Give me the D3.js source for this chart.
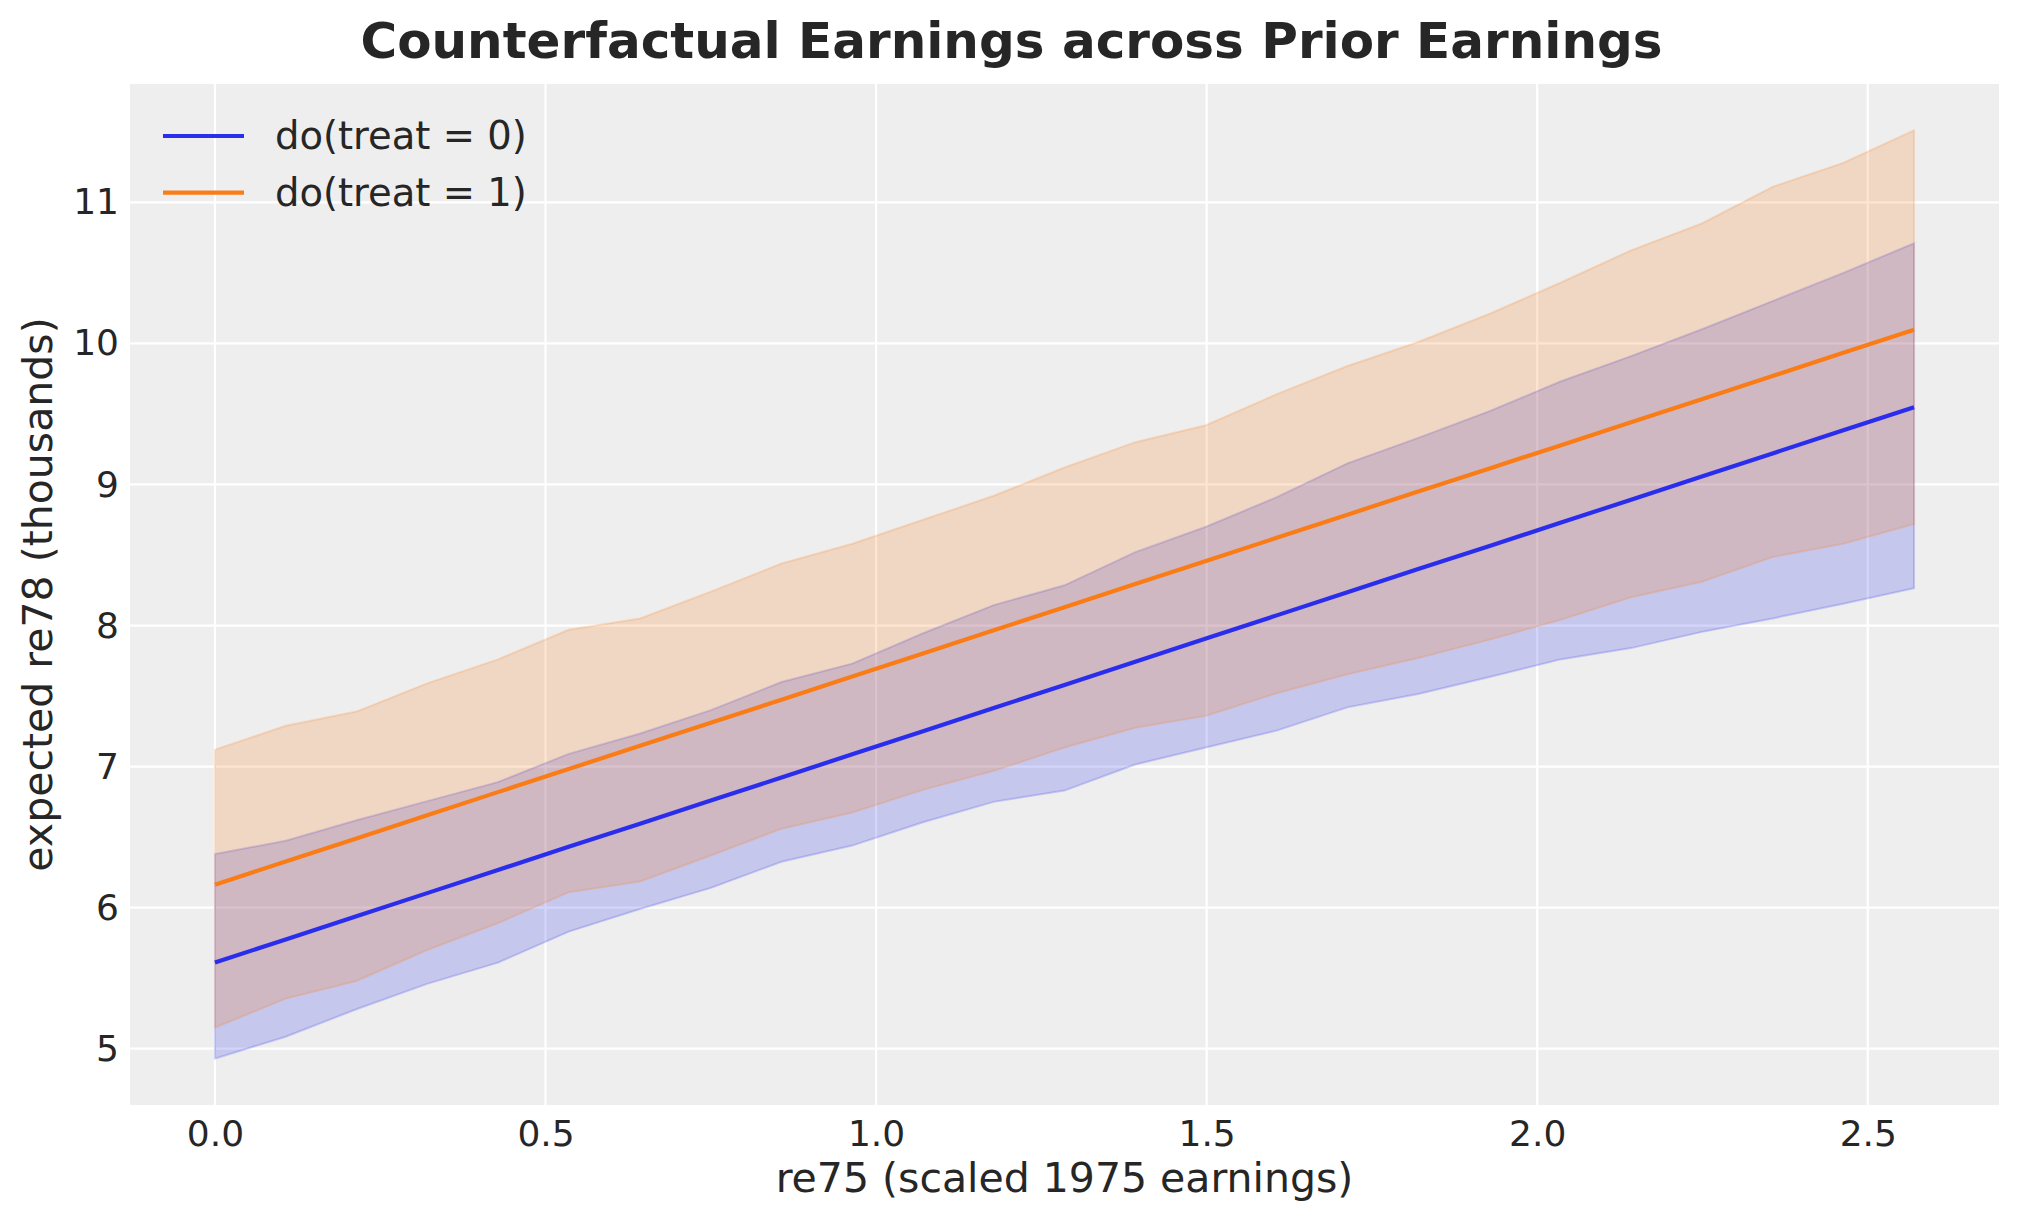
<!DOCTYPE html>
<html>
<head>
<meta charset="utf-8">
<script src="https://cdn.jsdelivr.net/npm/d3@7"></script>
<style>
  body { margin: 0; background: #fff; }
  text { font-family: "DejaVu Sans", sans-serif; fill: #262626; }
</style>
</head>
<body>
<svg id="viz" width="2023" height="1223"></svg>
<script>
// re75 grid (scaled 1975 earnings)
const re75 = [0, 0.107, 0.214, 0.321, 0.428, 0.535, 0.643, 0.750, 0.857, 0.964,
              1.071, 1.178, 1.285, 1.392, 1.499, 1.606, 1.713, 1.820, 1.928, 2.035,
              2.142, 2.249, 2.356, 2.463, 2.570];

// do(treat = 0): mean and interval
const meanControl = [5.611, 5.775, 5.939, 6.103, 6.267, 6.431, 6.595, 6.759, 6.923, 7.087,
                     7.251, 7.415, 7.579, 7.744, 7.908, 8.072, 8.236, 8.400, 8.564, 8.728,
                     8.892, 9.056, 9.220, 9.384, 9.548];
const lowControl = [4.93, 5.085, 5.28, 5.46, 5.61, 5.83, 5.99, 6.14, 6.325, 6.44,
                    6.605, 6.75, 6.83, 7.015, 7.135, 7.255, 7.42, 7.515, 7.635, 7.76,
                    7.84, 7.955, 8.05, 8.155, 8.265];
const highControl = [6.38, 6.475, 6.62, 6.755, 6.89, 7.09, 7.235, 7.40, 7.60, 7.73,
                     7.945, 8.145, 8.285, 8.52, 8.70, 8.91, 9.15, 9.33, 9.52, 9.73,
                     9.91, 10.10, 10.30, 10.50, 10.71];

// do(treat = 1): mean and interval
const meanTreated = [6.163, 6.327, 6.491, 6.655, 6.819, 6.983, 7.147, 7.311, 7.474, 7.638,
                     7.802, 7.966, 8.130, 8.294, 8.458, 8.622, 8.786, 8.950, 9.114, 9.277,
                     9.441, 9.605, 9.769, 9.933, 10.097];
const lowTreated = [5.15, 5.355, 5.48, 5.70, 5.89, 6.11, 6.185, 6.37, 6.56, 6.675,
                    6.835, 6.97, 7.135, 7.275, 7.36, 7.52, 7.655, 7.77, 7.90, 8.04,
                    8.20, 8.31, 8.485, 8.58, 8.72];
const highTreated = [7.12, 7.29, 7.39, 7.59, 7.76, 7.97, 8.05, 8.24, 8.44, 8.58,
                     8.75, 8.92, 9.12, 9.30, 9.42, 9.64, 9.84, 10.01, 10.21, 10.43,
                     10.66, 10.85, 11.11, 11.28, 11.51];

const seriesNames = ["do(treat = 0)", "do(treat = 1)"];
const xTicks = [0.0, 0.5, 1.0, 1.5, 2.0, 2.5];
const yTicks = [5, 6, 7, 8, 9, 10, 11];

const colors = ["#2a2eec", "#fa7c17"];

let svg = d3.select("#viz");
let width = parseInt(svg.attr("width"));
let height = parseInt(svg.attr("height"));

const margin = {top: 84, right: 24, bottom: 118, left: 130};
const w = width - margin.left - margin.right;
const h = height - margin.top - margin.bottom;

// matplotlib style 5% margins
const xExt = d3.extent(re75);
const xPad = (xExt[1] - xExt[0]) * 0.05;
const yExt = d3.extent([].concat(lowControl, highControl, lowTreated, highTreated));
const yPad = (yExt[1] - yExt[0]) * 0.05;

let x = d3.scaleLinear().domain([xExt[0] - xPad, xExt[1] + xPad]).range([0, w]);
let y = d3.scaleLinear().domain([yExt[0] - yPad, yExt[1] + yPad]).range([h, 0]);

let g = svg.append("g").attr("transform", `translate(${margin.left},${margin.top})`);

g.append("rect").attr("width", w).attr("height", h).attr("fill", "#eeeeee");

// grid
g.append("g").selectAll("line").data(xTicks).join("line")
    .attr("x1", d => x(d)).attr("x2", d => x(d))
    .attr("y1", 0).attr("y2", h)
    .attr("stroke", "#fff").attr("stroke-width", 2.2);
g.append("g").selectAll("line").data(yTicks).join("line")
    .attr("y1", d => y(d)).attr("y2", d => y(d))
    .attr("x1", 0).attr("x2", w)
    .attr("stroke", "#fff").attr("stroke-width", 2.2);

// axes (labels only)
let xAxis = g.append("g").attr("transform", `translate(0,${h})`)
    .call(d3.axisBottom(x).tickValues(xTicks).tickFormat(d3.format(".1f")).tickSize(0).tickPadding(15));
let yAxis = g.append("g")
    .call(d3.axisLeft(y).tickValues(yTicks).tickFormat(d3.format("d")).tickSize(0).tickPadding(11));
[xAxis, yAxis].forEach(a => {
    a.select(".domain").remove();
    a.selectAll("text").attr("font-size", 36).attr("font-family", "DejaVu Sans").attr("fill", "#262626");
});

// bands
const bands = [
    re75.map((v, i) => ({x: v, lo: lowControl[i], hi: highControl[i]})),
    re75.map((v, i) => ({x: v, lo: lowTreated[i], hi: highTreated[i]}))
];
let area = d3.area().x(d => x(d.x)).y0(d => y(d.lo)).y1(d => y(d.hi));

g.selectAll(".band").data(bands).join("path")
    .attr("class", "band")
    .attr("d", area)
    .attr("fill", (d, i) => colors[i])
    .attr("fill-opacity", 0.2)
    .attr("stroke", (d, i) => colors[i])
    .attr("stroke-opacity", 0.2)
    .attr("stroke-width", 2);

// mean lines
const means = [
    re75.map((v, i) => ({x: v, y: meanControl[i]})),
    re75.map((v, i) => ({x: v, y: meanTreated[i]}))
];
let line = d3.line().x(d => x(d.x)).y(d => y(d.y));

g.selectAll(".mean").data(means).join("path")
    .attr("class", "mean")
    .attr("d", line)
    .attr("fill", "none")
    .attr("stroke", (d, i) => colors[i])
    .attr("stroke-width", 4.2);

// legend
let legend = svg.append("g");
seriesNames.forEach((name, i) => {
    const ly = 136 + i * 56.7;
    legend.append("line")
        .attr("x1", 163).attr("x2", 244).attr("y1", ly).attr("y2", ly)
        .attr("stroke", colors[i]).attr("stroke-width", 4.2);
    legend.append("text")
        .attr("x", 275).attr("y", ly + 13)
        .attr("font-size", 38.5)
        .text(name);
});

// title and labels
svg.append("text")
    .attr("x", width / 2).attr("y", 58)
    .attr("text-anchor", "middle")
    .attr("font-size", 50).attr("font-weight", "bold")
    .text("Counterfactual Earnings across Prior Earnings");

svg.append("text")
    .attr("x", margin.left + w / 2).attr("y", 1192)
    .attr("text-anchor", "middle")
    .attr("font-size", 41)
    .text("re75 (scaled 1975 earnings)");

svg.append("text")
    .attr("transform", `translate(52,${margin.top + h / 2}) rotate(-90)`)
    .attr("text-anchor", "middle")
    .attr("font-size", 41)
    .text("expected re78 (thousands)");
</script>
</body>
</html>
